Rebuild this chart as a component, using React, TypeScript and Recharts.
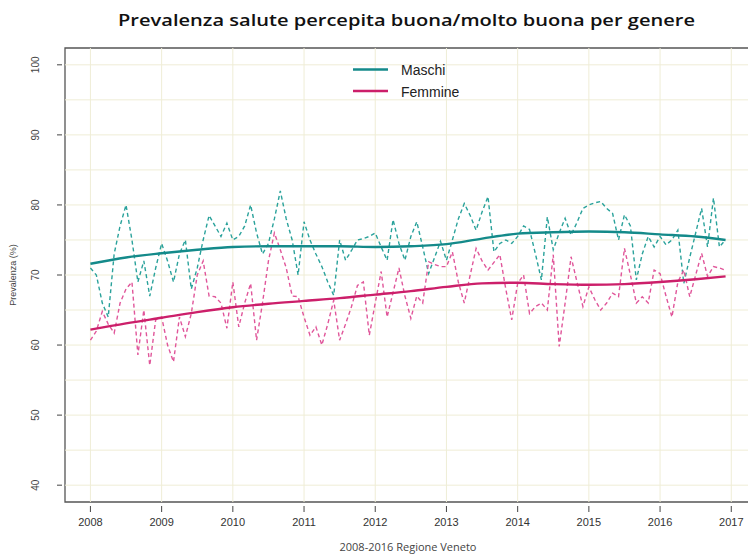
import React from 'react';
import { LineChart, Line, XAxis, YAxis, ReferenceLine, ReferenceArea } from 'recharts';

const startYear = 2008;

// Monthly values (Jan 2008 – Dec 2016)
const maschi = [
  71, 70, 66, 64, 73, 77, 80, 75, 69, 72, 67, 71,
  74.5, 72, 69, 73, 75, 68, 71, 75, 78.5, 77, 75.5, 77.4,
  75, 75.5, 77, 80, 76, 73, 74.5, 78, 82, 78, 75, 70,
  77.6, 75, 73, 71.2, 69, 67.1, 75, 72.1, 73.5, 75, 75.2, 75.5,
  76, 74, 72.1, 77.9, 74.5, 72.1, 75.5, 77.6, 74, 70.2, 72.5, 74.8,
  72.1, 75, 78, 80.2, 78.5, 76.4, 79, 81.2, 73.3, 74.5, 75, 74.5,
  75.5, 77, 76.5, 73, 69.3, 78.3, 73.6, 76, 78.1, 75.7, 77.5, 79.5,
  80, 80.3, 80.5, 79.5, 78.8, 75, 78.6, 77, 69.3, 73, 75.5, 74,
  75.5, 74.3, 75, 76.4, 68.8, 72.5, 76, 79.5, 74, 81, 74, 75,
];

const femmine = [
  60.7, 62, 64.8, 63, 61.7, 66, 68, 69, 58.6, 65, 57.1, 63.6,
  64, 60, 57.6, 64, 61.2, 64.5, 70, 72, 67, 66.9, 66, 62.4,
  69, 62.6, 66, 68.8, 60.7, 66, 72, 76, 73.6, 71, 67, 66.9,
  64, 61.4, 62.6, 60, 63, 66.4, 60.7, 63, 65.5, 68.5, 69, 61.4,
  66, 70.5, 64, 67.5, 71, 67, 63.8, 67, 66, 71.9, 71.5, 71.2,
  71.2, 73.3, 69, 66, 70, 73.8, 72, 70.7, 71.8, 72.9, 68, 63.6,
  68.8, 70, 64.5, 65.5, 66, 65, 72.9, 59.8, 66, 72.6, 69, 65.5,
  68.3, 66.5, 65, 66, 67.4, 66.9, 73.8, 70, 66, 66.9, 66, 70.7,
  70.2, 67, 64, 69, 70.7, 66.9, 70, 73.1, 69.8, 71.2, 71, 70.7,
];

// Smoothed trends
const trendT = [2008, 2008.5, 2009, 2009.5, 2010, 2010.5, 2011, 2011.5, 2012, 2012.5, 2013, 2013.5, 2014, 2014.5, 2015, 2015.5, 2016, 2016.5, 2016.92];
const maschiTrend = [71.6, 72.5, 73.1, 73.6, 74, 74.1, 74.1, 74.1, 74, 74.1, 74.4, 75.2, 75.9, 76.1, 76.2, 76.1, 75.8, 75.5, 75];
const femmineTrend = [62.2, 63.1, 63.9, 64.7, 65.4, 65.9, 66.3, 66.7, 67.2, 67.7, 68.3, 68.8, 68.9, 68.7, 68.6, 68.7, 69, 69.4, 69.8];

const xTicks = [2008, 2009, 2010, 2011, 2012, 2013, 2014, 2015, 2016, 2017];
const yTicks = [40, 50, 60, 70, 80, 90, 100];
const yGrid = [40, 45, 50, 55, 60, 65, 70, 75, 80, 85, 90, 95, 100];

const monthly = maschi.map((m, i) => ({ t: startYear + i / 12, maschi: m, femmine: femmine[i] }));
const trend = trendT.map((t, i) => ({ t, maschiTrend: maschiTrend[i], femmineTrend: femmineTrend[i] }));

const X_DOMAIN: [number, number] = [2007.643, 2017.277];
const Y_DOMAIN: [number, number] = [37.6, 102.4];

const TEAL = '#148a8a';
const TEAL_D = '#2aa29b';
const PINK = '#cc1f6a';
const PINK_D = '#e0569a';
const GRID = '#efedd6';

const XTick = (props: any) => {
  const { x, y, payload } = props;
  return (
    <g>
      <line x1={x} x2={x} y1={y + 4} y2={y + 10} stroke="#444" strokeWidth={1} />
      <text x={x} y={y + 24} textAnchor="middle" fontSize={11} fill="#333" fontFamily="Liberation Sans, Arial, sans-serif">
        {payload.value}
      </text>
    </g>
  );
};

const YTick = (props: any) => {
  const { x, y, payload } = props;
  const tx = x - 26;
  return (
    <g>
      <line x1={x - 8} x2={x - 3} y1={y} y2={y} stroke="#444" strokeWidth={1} />
      <text x={tx} y={y} transform={`rotate(-90 ${tx} ${y})`} textAnchor="middle" fontSize={10} fill="#444" fontFamily="Liberation Sans, Arial, sans-serif">
        {payload.value}
      </text>
    </g>
  );
};

export default function App() {
  return (
    <div style={{ position: 'absolute', left: 0, top: 0, width: 748, height: 557, overflow: 'hidden', background: '#fff' }}>
      <LineChart width={760} height={557} margin={{ top: 48, right: 9, bottom: 0, left: 0 }}>
        <XAxis
          type="number"
          dataKey="t"
          domain={X_DOMAIN}
          allowDataOverflow
          ticks={xTicks}
          height={55}
          axisLine={false}
          tickLine={false}
          tickSize={0}
          tickMargin={0}
          tick={<XTick />}
          interval={0}
        />
        <YAxis
          type="number"
          domain={Y_DOMAIN}
          allowDataOverflow
          ticks={yTicks}
          width={65}
          axisLine={false}
          tickLine={false}
          tickSize={0}
          tickMargin={0}
          tick={<YTick />}
          interval={0}
        />
        {yGrid.map((v) => (
          <ReferenceLine key={'gy' + v} y={v} stroke={GRID} strokeWidth={1} />
        ))}
        {xTicks.map((v) => (
          <ReferenceLine key={'gx' + v} x={v} stroke={GRID} strokeWidth={1} />
        ))}
        <ReferenceArea x1={X_DOMAIN[0]} x2={X_DOMAIN[1]} y1={Y_DOMAIN[0]} y2={Y_DOMAIN[1]} fill="none" fillOpacity={0} stroke="#555" strokeWidth={1.3} ifOverflow="visible" />
        <Line data={monthly} dataKey="maschi" type="linear" stroke={TEAL_D} strokeWidth={1.4} strokeDasharray="4 3" dot={false} isAnimationActive={false} />
        <Line data={monthly} dataKey="femmine" type="linear" stroke={PINK_D} strokeWidth={1.4} strokeDasharray="4 3" dot={false} isAnimationActive={false} />
        <Line data={trend} dataKey="maschiTrend" type="monotone" stroke={TEAL} strokeWidth={2.4} dot={false} isAnimationActive={false} />
        <Line data={trend} dataKey="femmineTrend" type="monotone" stroke={PINK} strokeWidth={2.4} dot={false} isAnimationActive={false} />
      </LineChart>
      <svg width={748} height={557} style={{ position: 'absolute', left: 0, top: 0, pointerEvents: 'none' }}>
        <text x={406.5} y={26} textAnchor="middle" fontSize={17} fontWeight={600} fill="#111" fontFamily="Open Sans, sans-serif" textLength={577} lengthAdjust="spacingAndGlyphs">
          Prevalenza salute percepita buona/molto buona per genere
        </text>
        <text x={16} y={275} transform="rotate(-90 16 275)" textAnchor="middle" fontSize={9} fill="#444" fontFamily="Liberation Sans, Arial, sans-serif">
          Prevalenza (%)
        </text>
        <text x={408} y={551} textAnchor="middle" fontSize={10} fill="#444" fontFamily="Open Sans, sans-serif" textLength={137} lengthAdjust="spacingAndGlyphs">
          2008-2016 Regione Veneto
        </text>
        <line x1={353} x2={388} y1={69.5} y2={69.5} stroke={TEAL} strokeWidth={2.6} />
        <text x={401} y={75} fontSize={14} fill="#222" fontFamily="Liberation Sans, Arial, sans-serif">Maschi</text>
        <line x1={353} x2={388} y1={91} y2={91} stroke={PINK} strokeWidth={2.6} />
        <text x={401} y={96.5} fontSize={14} fill="#222" fontFamily="Liberation Sans, Arial, sans-serif">Femmine</text>
      </svg>
    </div>
  );
}
